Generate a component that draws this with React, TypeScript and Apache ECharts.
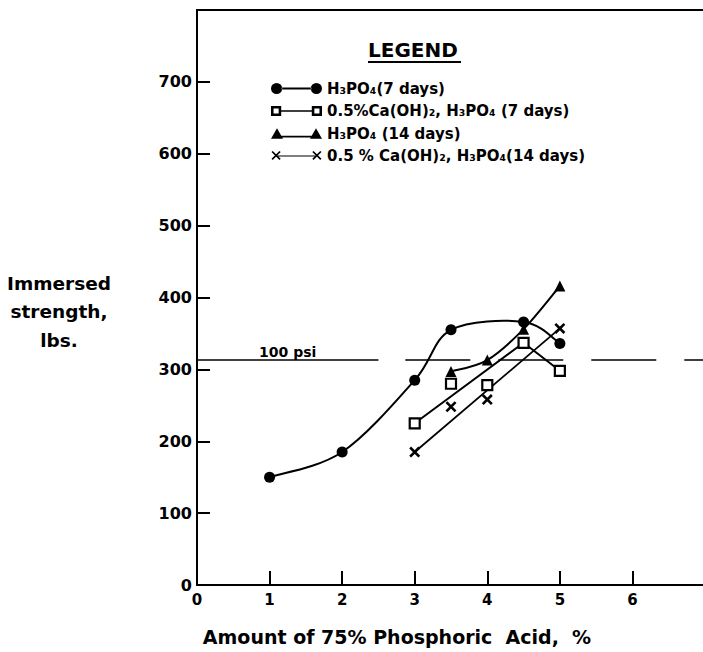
import React, { useEffect, useRef } from "react";
import * as echarts from "echarts";

const FONT = '"DejaVu Sans", "Noto Sans", sans-serif';

const X_TICKS = [0, 1, 2, 3, 4, 5, 6];
const Y_TICKS = [0, 100, 200, 300, 400, 500, 600, 700];
const PSI_LIMIT = 313;
const PSI_LABEL = "100 psi";

const SERIES_NAMES = [
  "H₃PO₄(7 days)",
  "0.5%Ca(OH)₂, H₃PO₄ (7 days)",
  "H₃PO₄ (14 days)",
  "0.5 % Ca(OH)₂, H₃PO₄(14 days)",
];

// H3PO4, 7 days (filled circles, smooth curve through points)
const ACID_7D_X = [1, 2, 3, 3.5, 4.5, 5];
const ACID_7D_Y = [150, 185, 285, 355, 366, 336];

// 0.5% Ca(OH)2 + H3PO4, 7 days (open squares) and its drawn line
const LIME_7D_X = [3, 3.5, 4, 4.5, 5];
const LIME_7D_Y = [225, 280, 278, 337, 298];
const LIME_7D_FIT_X = [3, 4.5, 5];
const LIME_7D_FIT_Y = [225, 337, 298];

// H3PO4, 14 days (triangles, smooth curve through points)
const ACID_14D_X = [3.5, 4, 4.5, 5];
const ACID_14D_Y = [297, 313, 356, 416];

// 0.5% Ca(OH)2 + H3PO4, 14 days (crosses) and its drawn line
const LIME_14D_X = [3, 3.5, 4, 5];
const LIME_14D_Y = [185, 248, 258, 357];
const LIME_14D_FIT_X = [3, 5];
const LIME_14D_FIT_Y = [185, 357];

const zip = (xs: number[], ys: number[]) => xs.map((x, i) => [x, ys[i]]);

const CROSS = "path://M0,1.7 L1.7,0 L10,8.3 L8.3,10 Z M8.3,0 L10,1.7 L1.7,10 L0,8.3 Z";

const ICON_CIRCLES =
  "path://M0.5,6 a5.5,5.5 0 1,0 11,0 a5.5,5.5 0 1,0 -11,0 Z M39.5,6 a5.5,5.5 0 1,0 11,0 a5.5,5.5 0 1,0 -11,0 Z M11,5 L40,5 L40,7 L11,7 Z";
const ICON_SQUARES =
  "path://M0.5,1 L10.5,1 L10.5,11 L0.5,11 Z M3,3.5 L3,8.5 L8,8.5 L8,3.5 Z M40.5,1 L50.5,1 L50.5,11 L40.5,11 Z M43,3.5 L43,8.5 L48,8.5 L48,3.5 Z M10.5,5.2 L40.5,5.2 L40.5,6.8 L10.5,6.8 Z";
const ICON_TRIANGLES =
  "path://M0,11 L6,0.5 L12,11 Z M39,11 L45,0.5 L51,11 Z M10,8 L41,8 L41,9.8 L10,9.8 Z";
const ICON_CROSSES =
  "path://M1,2.2 L2.2,1 L10,8.8 L8.8,10 Z M8.8,1 L10,2.2 L2.2,10 L1,8.8 Z M6,5.4 L45,5.4 L45,6.6 L6,6.6 Z M41,2.2 L42.2,1 L50,8.8 L48.8,10 Z M48.8,1 L50,2.2 L42.2,10 L41,8.8 Z M0.5,0.5 L0.5,0.5 Z M50.5,11.5 L50.5,11.5 Z";

const LEGEND_ICONS = [ICON_CIRCLES, ICON_SQUARES, ICON_TRIANGLES, ICON_CROSSES];

// Catmull-Rom curve through pixel points (hand-drawn French-curve look)
function curvePath(pts: number[][]) {
  let d = `M${pts[0][0]},${pts[0][1]}`;
  for (let i = 0; i < pts.length - 1; i++) {
    const p0 = pts[i - 1] || pts[i];
    const p1 = pts[i];
    const p2 = pts[i + 1];
    const p3 = pts[i + 2] || p2;
    const c1x = p1[0] + (p2[0] - p0[0]) / 6;
    const c1y = p1[1] + (p2[1] - p0[1]) / 6;
    const c2x = p2[0] - (p3[0] - p1[0]) / 6;
    const c2y = p2[1] - (p3[1] - p1[1]) / 6;
    d += ` C${c1x},${c1y} ${c2x},${c2y} ${p2[0]},${p2[1]}`;
  }
  return d;
}

function curveSeries(xs: number[], ys: number[], width: number) {
  const data = zip(xs, ys);
  return {
    type: "custom",
    data,
    clip: false,
    silent: true,
    z: 2,
    encode: { x: 0, y: 1 },
    renderItem: (params: any, api: any) => {
      if (params.dataIndex !== 0) return null;
      const pts = data.map((p) => api.coord(p));
      return {
        type: "path",
        shape: { pathData: curvePath(pts) },
        style: { fill: "none", stroke: "#000", lineWidth: width },
      };
    },
  };
}

export default function App() {
  const ref = useRef<HTMLDivElement>(null);

  useEffect(() => {
    if (!ref.current) return;
    const chart = echarts.init(ref.current, null, { renderer: "svg" });
    const black = "#000";
    const tickLabel = { color: black, fontWeight: "bold", fontFamily: FONT };

    chart.setOption({
      animation: false,
      backgroundColor: "#fff",
      grid: { left: 197, right: -2, top: 10, bottom: 67, containLabel: false, outerBoundsMode: "none" },
      legend: {
        left: 266,
        top: 76,
        orient: "vertical",
        itemWidth: 51,
        itemHeight: 12,
        itemGap: 7.5,
        selectedMode: false,
        textStyle: { color: black, fontWeight: "bold", fontSize: 15, fontFamily: FONT, lineHeight: 14 },
        data: SERIES_NAMES.map((name, i) => ({
          name,
          icon: LEGEND_ICONS[i],
          itemStyle: { color: black, borderWidth: 0, opacity: 1 },
        })),
      },
      graphic: [
        {
          type: "text",
          left: 368,
          top: 40,
          style: { text: "LEGEND", font: `bold 20px ${FONT}`, fill: black },
        },
        {
          type: "rect",
          shape: { x: 368, y: 61, width: 93, height: 2 },
          style: { fill: black },
        },
      ],
      xAxis: [
        {
          type: "value",
          min: 0,
          max: 7,
          interval: 1,
          position: "bottom",
          axisLine: { show: true, onZero: false, lineStyle: { color: black, width: 2 } },
          axisTick: { show: true, inside: true, length: 14, lineStyle: { color: black, width: 2 } },
          axisLabel: { ...tickLabel, fontSize: 15, margin: 7, customValues: X_TICKS },
          splitLine: { show: false },
          name: "Amount of 75% Phosphoric  Acid,  %",
          nameLocation: "middle",
          nameGap: 52,
          nameTextStyle: {
            color: black,
            fontWeight: "bold",
            fontFamily: FONT,
            fontSize: 19,
            align: "center",
            verticalAlign: "middle",
            padding: [0, 108, 0, 0],
          },
        },
        {
          type: "value",
          min: 0,
          max: 7,
          interval: 1,
          position: "top",
          axisLine: { show: true, onZero: false, lineStyle: { color: black, width: 2 } },
          axisTick: { show: false },
          axisLabel: { show: false },
          splitLine: { show: false },
        },
      ],
      yAxis: {
        type: "value",
        min: 0,
        max: 800,
        interval: 100,
        axisLine: { show: true, onZero: false, lineStyle: { color: black, width: 2 } },
        axisTick: { show: true, inside: true, length: 13, lineStyle: { color: black, width: 2 } },
        axisLabel: { ...tickLabel, fontSize: 16, margin: 5, customValues: Y_TICKS },
        splitLine: { show: false },
        name: "\nImmersed\nstrength,\nlbs.",
        nameLocation: "middle",
        nameRotate: 0,
        nameGap: 138,
        nameTextStyle: {
          color: black,
          fontWeight: "bold",
          fontFamily: FONT,
          fontSize: 18.5,
          lineHeight: 28.5,
          align: "center",
          verticalAlign: "middle",
        },
      },
      series: [
        {
          ...curveSeries(ACID_7D_X, ACID_7D_Y, 2),
          markLine: {
            silent: true,
            symbol: ["none", "none"],
            lineStyle: { color: black, width: 1.5, type: "solid" },
            label: { show: false },
            data: [
              [
                {
                  coord: [0, PSI_LIMIT],
                  label: {
                    show: true,
                    formatter: PSI_LABEL,
                    position: "insideMiddleTop",
                    distance: 1,
                    color: black,
                    fontWeight: "bold",
                    fontFamily: FONT,
                    fontSize: 14,
                  },
                },
                { coord: [2.5, PSI_LIMIT] },
              ],
              [
                { coord: [2.87, PSI_LIMIT], lineStyle: { type: [65, 28] } },
                { coord: [7, PSI_LIMIT] },
              ],
            ],
          },
        },
        curveSeries(ACID_14D_X, ACID_14D_Y, 2),
        {
          type: "line",
          data: zip(LIME_7D_FIT_X, LIME_7D_FIT_Y),
          symbol: "none",
          silent: true,
          lineStyle: { color: black, width: 2 },
          z: 2,
        },
        {
          type: "line",
          data: zip(LIME_14D_FIT_X, LIME_14D_FIT_Y),
          symbol: "none",
          silent: true,
          lineStyle: { color: black, width: 1.8 },
          z: 2,
        },
        {
          name: SERIES_NAMES[0],
          type: "scatter",
          data: zip(ACID_7D_X, ACID_7D_Y),
          symbol: "circle",
          symbolSize: 11,
          itemStyle: { color: black, opacity: 1 },
          z: 4,
        },
        {
          name: SERIES_NAMES[1],
          type: "scatter",
          data: zip(LIME_7D_X, LIME_7D_Y),
          symbol: "rect",
          symbolSize: 10,
          itemStyle: { color: "#fff", borderColor: black, borderWidth: 2.2, opacity: 1 },
          z: 4,
        },
        {
          name: SERIES_NAMES[2],
          type: "scatter",
          data: zip(ACID_14D_X, ACID_14D_Y),
          symbol: "triangle",
          symbolSize: 11,
          itemStyle: { color: black, opacity: 1 },
          z: 4,
        },
        {
          name: SERIES_NAMES[3],
          type: "scatter",
          data: zip(LIME_14D_X, LIME_14D_Y),
          symbol: CROSS,
          symbolSize: 11,
          itemStyle: { color: black, opacity: 1 },
          z: 4,
        },
      ],
    });

    return () => chart.dispose();
  }, []);

  return (
    <div
      ref={ref}
      style={{ position: "fixed", left: 0, top: 0, width: 703, height: 652, background: "#fff" }}
    />
  );
}
